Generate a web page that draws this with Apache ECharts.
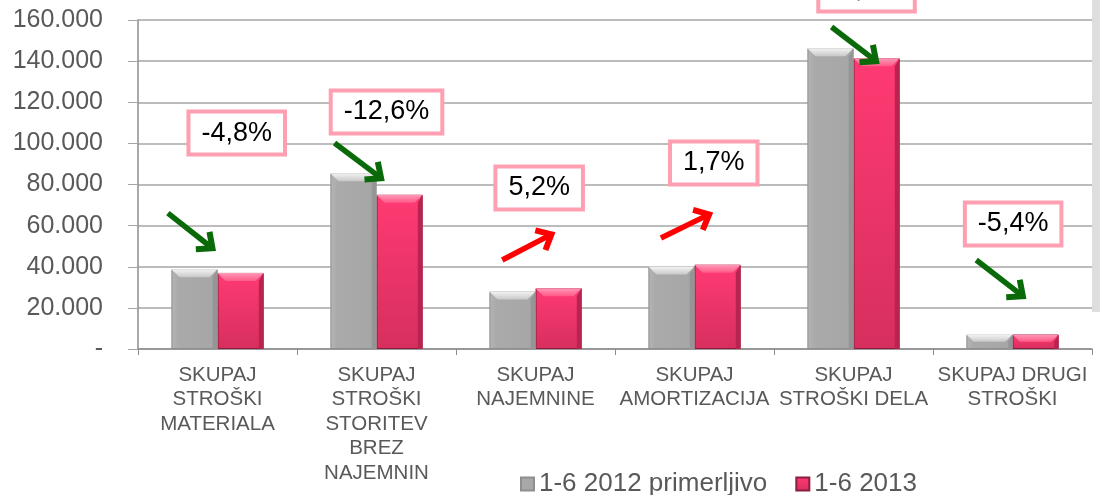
<!DOCTYPE html>
<html><head><meta charset="utf-8">
<script src="https://cdn.jsdelivr.net/npm/echarts@6/dist/echarts.min.js"></script>
<style>html,body{margin:0;padding:0;background:#fff}#c{width:1100px;height:495px}</style>
</head><body><div id="c"></div>
<script>
// ---- data ----
const categories = [
  'SKUPAJ\nSTROŠKI\nMATERIALA',
  'SKUPAJ\nSTROŠKI\nSTORITEV\nBREZ\nNAJEMNIN',
  'SKUPAJ\nNAJEMNINE',
  'SKUPAJ\nAMORTIZACIJA',
  'SKUPAJ\nSTROŠKI DELA',
  'SKUPAJ DRUGI\nSTROŠKI'
];
const seriesNames = ['1-6 2012 primerljivo', '1-6 2013'];
const values2012 = [38800, 85500, 28000, 40100, 146300, 7000];
const values2013 = [37000, 75000, 29600, 41000, 141400, 7100];
const changeLabels = ['-4,8%', '-12,6%', '5,2%', '1,7%', '-3,4%', '-5,4%'];
const changeUp = [false, false, true, true, false, false];
const yTickValues = [0, 20000, 40000, 60000, 80000, 100000, 120000, 140000, 160000];
const yTickLabels = ['-', '20.000', '40.000', '60.000', '80.000', '100.000', '120.000', '140.000', '160.000'];

// ---- annotation placement (category units 0..6, axis values) ----
const labelAt = [[0.621,105000],[1.563,115300],[2.523,78300],[3.621,90500],[4.582,174600],[5.504,60800]];
const arrowFrom = [[0.188,66100],[1.236,100200],[2.291,43300],[3.289,54000],[4.362,156600],[5.272,43300]];
const arrowTo   = [[0.483,48100],[1.544,82200],[2.617,56400],[3.609,66100],[4.657,139100],[5.580,24800]];

const FONT = '"Liberation Sans", Arial, sans-serif';
const chart = echarts.init(document.getElementById('c'));

function arrowShape(p0, p1, color) {
  const dx = p1[0]-p0[0], dy = p1[1]-p0[1];
  const len = Math.sqrt(dx*dx+dy*dy);
  const ux = dx/len, uy = dy/len;
  const head = 19, ang = 0.62;
  const cos = Math.cos(ang), sin = Math.sin(ang);
  const bx = -ux, by = -uy;
  const a1 = [p1[0] + head*(bx*cos - by*sin), p1[1] + head*(bx*sin + by*cos)];
  const a2 = [p1[0] + head*(bx*cos + by*sin), p1[1] + head*(-bx*sin + by*cos)];
  const tipIn = [p1[0]-ux*3, p1[1]-uy*3];
  return [
    {type:'line', shape:{x1:p0[0],y1:p0[1],x2:tipIn[0],y2:tipIn[1]}, style:{stroke:color,lineWidth:5.5,lineCap:'butt'}},
    {type:'polyline', shape:{points:[a1,tipIn,a2]}, style:{stroke:color,lineWidth:6,lineJoin:'miter',fill:null}}
  ];
}

function bevelSeries(values, sIdx, light) {
  return {
    type:'custom', xAxisIndex:0, yAxisIndex:0, z:3, silent:true,
    data: values.map((v,i)=>[i,v]),
    renderItem: function(params, api) {
      const i = api.value(0), v = api.value(1);
      const top = api.coord([i, v]);
      const base = api.coord([i, 0]);
      const cw = api.size([1,0])[0];
      const bw = cw*(1-0.42)/2;
      const x0 = top[0] - bw + sIdx*bw, x1 = x0 + bw;
      const b = Math.min(8, (base[1]-top[1])/2);
      return {type:'group', children:[
        {type:'polygon', shape:{points:[[x0,top[1]],[x1,top[1]],[x1-b,top[1]+b],[x0+b,top[1]+b]]},
          style:{fill:new echarts.graphic.LinearGradient(0,0,0,1,[{offset:0,color:light[0]},{offset:1,color:light[1]}])}},
        {type:'polygon', shape:{points:[[x1,top[1]],[x1,base[1]],[x1-b*0.6,base[1]],[x1-b*0.6,top[1]+b]]},
          style:{fill:light[2]}}
      ]};
    }
  };
}

const option = {
  animation:false,
  backgroundColor:'#ffffff',
  graphic:[{type:'rect', left:1092, top:0, shape:{width:8,height:312}, style:{fill:'#dedede'}, z:-1}],
  grid:{left:138, right:8, top:20, bottom:146, containLabel:false},
  legend:{
    data:seriesNames, left:515, top:466, icon:'rect', itemWidth:13, itemHeight:13, itemGap:28,
    textStyle:{fontFamily:FONT, fontSize:26, color:'#595959'}
  },
  xAxis:[{
    type:'category', data:categories,
    axisLine:{lineStyle:{color:'#8c8c8c', width:1.5}},
    axisTick:{show:true, length:6, lineStyle:{color:'#8c8c8c'}},
    axisLabel:{interval:0, fontFamily:FONT, fontSize:20.5, lineHeight:24.5, color:'#595959', margin:14}
  },{
    type:'value', min:0, max:6, show:false
  }],
  yAxis:{
    type:'value', min:0, max:160000, interval:20000,
    axisLine:{show:true, lineStyle:{color:'#8c8c8c', width:1.5}},
    axisTick:{show:true, length:10, lineStyle:{color:'#a6a6a6'}},
    splitLine:{lineStyle:{color:'#a6a6a6', width:1.5}},
    axisLabel:{fontFamily:FONT, fontSize:25, color:'#595959', margin:35,
      formatter:function(v){ const k = yTickValues.indexOf(v); return k>=0 ? yTickLabels[k] : ''; }}
  },
  series:[
    {name:seriesNames[0], type:'bar', data:values2012, barGap:'0%', barCategoryGap:'42%',
      itemStyle:{color:new echarts.graphic.LinearGradient(0,0,1,0,[{offset:0,color:'#b5b5b5'},{offset:0.15,color:'#aaaaaa'},{offset:1,color:'#a6a6a6'}]), borderColor:'#8e8e8e', borderWidth:1}},
    {name:seriesNames[1], type:'bar', data:values2013,
      itemStyle:{color:new echarts.graphic.LinearGradient(0,0,0,1,[{offset:0,color:'#ff3a72'},{offset:1,color:'#d62f5e'}]), borderColor:'#8c1c40', borderWidth:1}},
    bevelSeries(values2012, 0, ['#f4f4f4','#c8c8c8','#959595']),
    bevelSeries(values2013, 1, ['#ff9ab8','#ff5a88','#b8234f']),
    {
      type:'custom', xAxisIndex:1, yAxisIndex:0, z:10, clip:false, silent:true,
      data: changeLabels.map((t,i)=>i),
      renderItem:function(params, api){
        const i = params.dataIndex;
        const color = changeUp[i] ? '#ff0000' : '#0a6a0a';
        const p0 = api.coord(arrowFrom[i]), p1 = api.coord(arrowTo[i]);
        const lp = api.coord(labelAt[i]);
        const children = arrowShape(p0, p1, color);
        children.push({type:'text', x:lp[0], y:lp[1], style:{
          text:changeLabels[i], align:'center', verticalAlign:'middle',
          font:'27px ' + FONT, fill:'#000000',
          backgroundColor:'#ffffff', padding:[6,11],
          borderColor:'#ff9fb2', borderWidth:4,
          boxShadowBlur:10, boxShadowColor:'rgba(255,80,115,0.8)'
        }});
        return {type:'group', children:children};
      }
    }
  ]
};
chart.setOption(option);
</script></body></html>
